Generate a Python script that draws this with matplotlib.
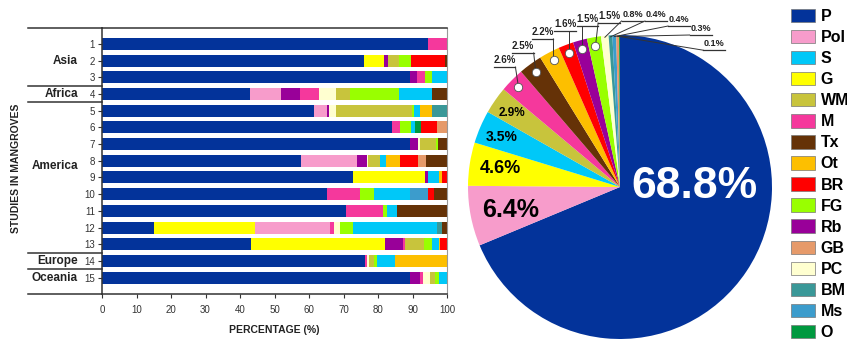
import numpy as np
import matplotlib
matplotlib.use("Agg")
import matplotlib.pyplot as plt
import matplotlib.transforms as mtransforms
from matplotlib.patches import Patch

plt.rcParams['font.family'] = ['Liberation Sans', 'DejaVu Sans']

# categories and colours
cats = ['P', 'Pol', 'S', 'G', 'WM', 'M', 'Tx', 'Ot', 'BR', 'FG', 'Rb', 'GB', 'PC', 'BM', 'Ms', 'O']
cat_colors = ['#03339a', '#f79ccb', '#00c8f8', '#ffff00', '#c8c43c', '#f5389c', '#653207',
              '#fdbf00', '#ff0000', '#99ff00', '#990099', '#e69a6a', '#ffffd0', '#3a9898',
              '#3c9ccc', '#00993f']

# per-study share (%) of each category, studies 1..15
study_P = [94.4, 76.0, 89.4, 43.0, 61.5, 84.2, 89.4, 57.7, 72.8, 65.2, 70.7, 15.0, 43.3, 76.1, 89.4]
study_G = [0, 5.6, 0, 0, 0, 0, 0, 0, 20.9, 0, 0, 29.4, 38.6, 0, 0]
study_Pol = [0, 0, 0, 8.9, 3.7, 0, 0, 16.2, 0, 0, 0, 21.8, 0, 0, 0]
study_Rb = [0, 1.2, 1.9, 5.6, 0.6, 0, 2.2, 2.9, 0.7, 0, 0, 0, 5.3, 0, 2.9]
study_M = [5.6, 0, 2.4, 5.3, 0, 2.1, 0, 0, 0, 9.5, 10.7, 1.1, 0.7, 0.7, 0.7]
study_PC = [0, 0, 0, 5.0, 2.0, 0, 0.5, 0.4, 0, 0, 0, 1.6, 0, 0.5, 2.0]
study_WM = [0, 3.3, 0, 4.1, 22.0, 0, 4.8, 3.3, 0, 0, 0, 0, 5.3, 1.4, 1.4]
study_FG = [0, 3.4, 1.9, 14.3, 0.7, 3.2, 0.5, 0, 0, 4.2, 1.2, 3.9, 2.5, 1.0, 1.4]
study_S = [0, 0, 4.4, 9.4, 1.7, 1.1, 0, 1.9, 3.2, 10.3, 2.9, 24.3, 1.9, 5.3, 2.2]
study_O = [0, 0, 0, 0, 0, 1.8, 0, 0, 0, 0, 0, 0, 0, 0, 0]
study_Ms = [0, 0, 0, 0, 0, 0, 0, 0, 0, 5.3, 0, 0, 0, 0, 0]
study_Ot = [0, 0, 0, 0, 3.4, 0, 0, 3.9, 1.0, 0, 0, 0, 0.5, 15.0, 0]
study_BM = [0, 0, 0, 0, 4.4, 0, 0, 0, 0, 0, 0, 1.5, 0, 0, 0]
study_BR = [0, 9.9, 0, 0, 0, 4.7, 0, 5.2, 1.4, 1.6, 0, 0, 1.9, 0, 0]
study_GB = [0, 0, 0, 0, 0, 2.9, 0, 2.5, 0, 0, 0, 0, 0, 0, 0]
study_Tx = [0, 0.6, 0, 4.4, 0, 0, 2.6, 6.0, 0, 3.9, 14.5, 1.4, 0, 0, 0]

# order in which segments are stacked along each bar
stack = [('P', study_P), ('G', study_G), ('Pol', study_Pol), ('Rb', study_Rb), ('M', study_M),
         ('PC', study_PC), ('WM', study_WM), ('FG', study_FG), ('S', study_S), ('O', study_O),
         ('Ms', study_Ms), ('Ot', study_Ot), ('BM', study_BM), ('BR', study_BR), ('GB', study_GB),
         ('Tx', study_Tx)]

regions = ['Asia', 'Africa', 'America', 'Europe', 'Oceania']
region_rows = [2, 4, 8.3, 14, 15]
region_breaks = [3.5, 4.5, 13.5, 14.5]

# overall shares for the pie, clockwise from the top
pie_cats = ['P', 'Pol', 'G', 'S', 'WM', 'M', 'Tx', 'Ot', 'BR', 'Rb', 'FG', 'PC', 'BM', 'Ms', 'GB', 'O']
pie_share = [68.8, 6.4, 4.6, 3.5, 2.9, 2.6, 2.5, 2.2, 1.6, 1.5, 1.5, 0.8, 0.4, 0.4, 0.3, 0.1]

color_of = dict(zip(cats, cat_colors))

fig = plt.figure(figsize=(8.47, 3.39), dpi=100)

# ---- stacked bars ----
ax = fig.add_axes([102 / 847, 45 / 339, 345 / 847, 266 / 339])
rows = np.arange(1, 16)
left = np.zeros(15)
for name, vals in stack:
    vals = np.array(vals, dtype=float)
    ax.barh(rows, vals, left=left, height=0.72, color=color_of[name], linewidth=0)
    left += vals

ax.set_xlim(0, 100)
ax.set_ylim(15.98, 0.05)
ax.set_xticks(np.arange(0, 101, 10))
ax.set_yticks(rows)
ax.tick_params(axis='both', labelsize=7, colors='#333333', length=3, width=0.8, pad=2)
ax.tick_params(axis='x', pad=5)
for s in ['left', 'top', 'bottom']:
    ax.spines[s].set_color('#333333')
    ax.spines[s].set_linewidth(1.1)
ax.spines['right'].set_color('#999999')
ax.spines['right'].set_linewidth(0.8)
ax.set_xlabel('PERCENTAGE (%)', fontsize=7.5, fontweight='bold', color='#222222', labelpad=7)

trans = mtransforms.blended_transform_factory(ax.transAxes, ax.transData)
for y in region_breaks + [15.98, 0.05]:
    ax.plot([-0.215, 0], [y, y], transform=trans, clip_on=False, color='#333333', lw=1.1)
for name, y in zip(regions, region_rows):
    ax.text(-0.07, y, name, transform=trans, ha='right', va='center',
            fontsize=8.5, fontweight='bold', color='#222222')

fig.text(16 / 847, 1 - 168 / 339, 'STUDIES IN MANGROVES', rotation=90, ha='center', va='center',
         fontsize=7.5, fontweight='bold', color='#222222')

# ---- pie ----
R = 152
pax = fig.add_axes([(620 - R) / 847, (339 - 187 - R) / 339, 2 * R / 847, 2 * R / 339])
wedges, _ = pax.pie(pie_share, colors=[color_of[c] for c in pie_cats], startangle=90,
                    counterclock=False, radius=1, wedgeprops=dict(linewidth=0))
pax.set_xlim(-1, 1)
pax.set_ylim(-1, 1)
pax.set_aspect('equal')
pax.axis('off')

# labels placed inside the larger wedges
big = {'P': (0.49, 0.0, 32, 'white'), 'Pol': (-0.72, -0.15, 18, 'black'),
       'G': (-0.79, 0.12, 13, 'black'), 'S': (-0.78, 0.33, 10, 'black'),
       'WM': (-0.71, 0.49, 8.5, 'black')}
# underlined call-outs for the thin wedges: (underline centre x, underline y, marker?)
callouts = {'M': (-0.76, 0.789, True), 'Tx': (-0.64, 0.882, True), 'Ot': (-0.51, 0.974, True),
            'BR': (-0.36, 1.026, True), 'Rb': (-0.214, 1.059, True), 'FG': (-0.072, 1.079, True),
            'PC': (0.082, 1.092, False), 'BM': (0.236, 1.092, False), 'Ms': (0.388, 1.059, False),
            'GB': (0.53, 1.0, False), 'O': (0.62, 0.90, False)}

for w, c, v in zip(wedges, pie_cats, pie_share):
    mid = np.deg2rad((w.theta1 + w.theta2) / 2)
    if c in big:
        x, y, fs, col = big[c]
        pax.text(x, y, f'{v}%', ha='center', va='center', fontsize=fs,
                 fontweight='bold', color=col)
    else:
        ux, uy, marker = callouts[c]
        hw = 0.072
        r = 0.94 if marker else 0.99
        px, py = r * np.cos(mid), r * np.sin(mid)
        jx = min(max(px, ux - hw), ux + hw)
        pax.plot([px, jx], [py, uy], color='#333333', lw=0.7, clip_on=False)
        pax.plot([ux - hw, ux + hw], [uy, uy], color='#333333', lw=0.9, clip_on=False)
        if marker:
            pax.plot(px, py, 'o', ms=6, mfc='white', mec='#555555', mew=0.6, clip_on=False)
        fs = 7 if marker else 6.5
        pax.text(ux, uy + 0.012, f'{v}%', ha='center', va='bottom', fontsize=fs,
                 fontweight='bold', color='#222222')

# ---- legend ----
handles = [Patch(facecolor=col, edgecolor='#777777', linewidth=0.5) for col in cat_colors]
fig.legend(handles, cats, loc='upper left', bbox_to_anchor=(791 / 847, 1 - 9 / 339),
           frameon=False, prop={'weight': 'bold', 'size': 11.5},
           handlelength=1.5, handleheight=0.9, handletextpad=0.35, labelspacing=0.37,
           borderpad=0, borderaxespad=0)

fig.savefig('out.png', dpi=100)
